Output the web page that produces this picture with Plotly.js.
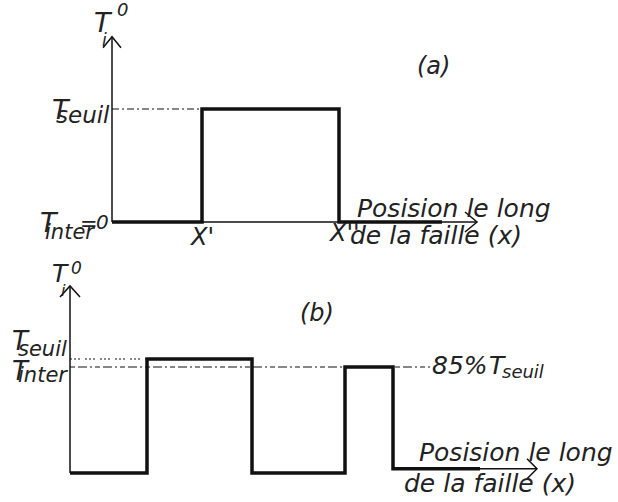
<!DOCTYPE html>
<html>
<head>
<meta charset="utf-8">
<script src="https://cdn.plot.ly/plotly-3.0.1.min.js"></script>
<style>
  html, body { margin: 0; padding: 0; background: #fff; }
  #chart { width: 618px; height: 502px; }
</style>
</head>
<body>
<div id="chart"></div>
<script>
// ---- Profile (a): single pulse between X' and X'' (T in units of T_seuil) ----
const aX = [0, 9.0, 9.0, 22.7, 22.7, 33.0];
const aT = [0, 0, 1, 1, 0, 0];
const aAxisTop = 1.64;   // end of the T axis arrow
const aAxisEnd = 36.5;   // end of the position axis arrow
const aXprime = 9.0;     // X'
const aXsecond = 22.7;   // X''

// ---- Profile (b): two pulses, the second reaching 85% of T_seuil ----
const tSeuil = 1.0;
const tInterRatio = 0.85;
const bLow = -1.14;
const bLowEnd = -1.06;
const bX = [0, 7.7, 7.7, 18.2, 18.2, 27.5, 27.5, 32.3, 32.3, 41.0];
const bT = [bLow, bLow, tSeuil, tSeuil, bLow, bLow, tInterRatio * tSeuil, tInterRatio * tSeuil, bLowEnd, bLowEnd];
const bAxisTop = 2.37;
const bAxisEnd = 46.7;
const bInterEnd = 36.0;

const W = 618, H = 502;
const FONT = 'DejaVu Sans, Liberation Sans, sans-serif';
const INK = '#111';

const thick = { color: INK, width: 3.5 };
const thin = { color: INK, width: 1.5 };

function line(x, y, ax, ay, style) {
  return { type: 'scatter', mode: 'lines', x: x, y: y, xaxis: ax, yaxis: ay,
           line: style, hoverinfo: 'skip', showlegend: false };
}

const traces = [
  // (a)
  line([0, aXprime], [1, 1], 'x', 'y', { color: INK, width: 1.2, dash: '7px,3px,2px,3px' }),
  line([0, 0], [0, aAxisTop], 'x', 'y', thin),
  line([0, aAxisEnd], [0, 0], 'x', 'y', thin),
  line(aX, aT, 'x', 'y', thick),
  // (b)
  line([0, bX[1]], [tSeuil, tSeuil], 'x2', 'y2', { color: INK, width: 1.2, dash: '2px,2px,2px,2px,2px,5px' }),
  line([0, bInterEnd], [tInterRatio * tSeuil, tInterRatio * tSeuil], 'x2', 'y2', { color: INK, width: 1.2, dash: '5px,3px,9px,3px,2px,3px' }),
  line([0, 0], [bLow, bAxisTop], 'x2', 'y2', thin),
  line([bX[bX.length - 1], bAxisEnd], [bLowEnd, bLowEnd], 'x2', 'y2', thin),
  line(bX, bT, 'x2', 'y2', thick)
];

// open arrow heads drawn in pixel offsets from the axis ends
function chevron(xref, yref, xa, ya, path) {
  return { type: 'path', xref: xref, yref: yref, xsizemode: 'pixel', ysizemode: 'pixel',
           xanchor: xa, yanchor: ya, path: path, line: { color: INK, width: 1.5 } };
}
const shapes = [
  chevron('x', 'y', 0, aAxisTop, 'M-9,-11 L0,0 L9,-11'),
  chevron('x', 'y', aAxisEnd, 0, 'M-12,10 L0,0 L-12,-10'),
  chevron('x2', 'y2', 0, bAxisTop, 'M-10,-11 L0,0 L10,-11'),
  chevron('x2', 'y2', bAxisEnd, bLowEnd, 'M-10,10 L0,0 L-10,-10')
];

// text placed in pixel positions of the figure
function txt(t, x, y, size, opts) {
  opts = opts || {};
  return Object.assign({
    text: t, xref: 'paper', yref: 'paper', x: x / W, y: 1 - y / H,
    xanchor: 'left', yanchor: 'middle', showarrow: false,
    font: { family: FONT, size: size, color: '#222', style: 'italic' }
  }, opts);
}

const annotations = [
  // (a)
  txt('T', 92, 23, 27),
  txt('i', 100, 40, 17),
  txt('0', 115, 10, 18),
  txt('(a)', 415, 66, 24),
  txt('T', 50, 109, 27),
  txt('seuil', 54, 115, 23),
  txt('T', 38, 222, 27),
  txt('inter', 43, 232, 21),
  txt('=', 78, 224, 21),
  txt('0', 94, 222, 20),
  txt("X'", 187, 237, 24),
  txt("X''", 326, 233, 24),
  txt('Posision le long', 355, 208, 25),
  txt('de la faille (x)', 348, 235, 25),
  // (b)
  txt('T', 50, 273, 25),
  txt('i', 59, 290, 16),
  txt('0', 69, 268, 17),
  txt('(b)', 298, 313, 24),
  txt('T', 10, 341, 26),
  txt('seuil', 16, 349, 21),
  txt('T', 10, 371, 26),
  txt('inter', 16, 375, 21),
  txt('85%', 430, 365, 25),
  txt('T', 487, 365, 25),
  txt('seuil', 500, 371, 18),
  txt('Posision le long', 417, 452, 25),
  txt('de la faille (x)', 402, 483, 25)
];

const hidden = { visible: false, fixedrange: true };

const layout = {
  width: W, height: H,
  margin: { l: 0, r: 0, t: 0, b: 0, pad: 0 },
  paper_bgcolor: '#fff', plot_bgcolor: 'rgba(0,0,0,0)',
  showlegend: false,
  xaxis: Object.assign({ domain: [0, 1], range: [-11.2, 50.6], anchor: 'y' }, hidden),
  yaxis: Object.assign({ domain: [0.5, 1], range: [-0.257, 1.965], anchor: 'x' }, hidden),
  xaxis2: Object.assign({ domain: [0, 1], range: [-7.0, 54.8], anchor: 'y2' }, hidden),
  yaxis2: Object.assign({ domain: [0, 0.5], range: [-1.683, 3.026], anchor: 'x2' }, hidden),
  shapes: shapes,
  annotations: annotations
};

Plotly.newPlot('chart', traces, layout, { staticPlot: true, displayModeBar: false });
</script>
</body>
</html>
